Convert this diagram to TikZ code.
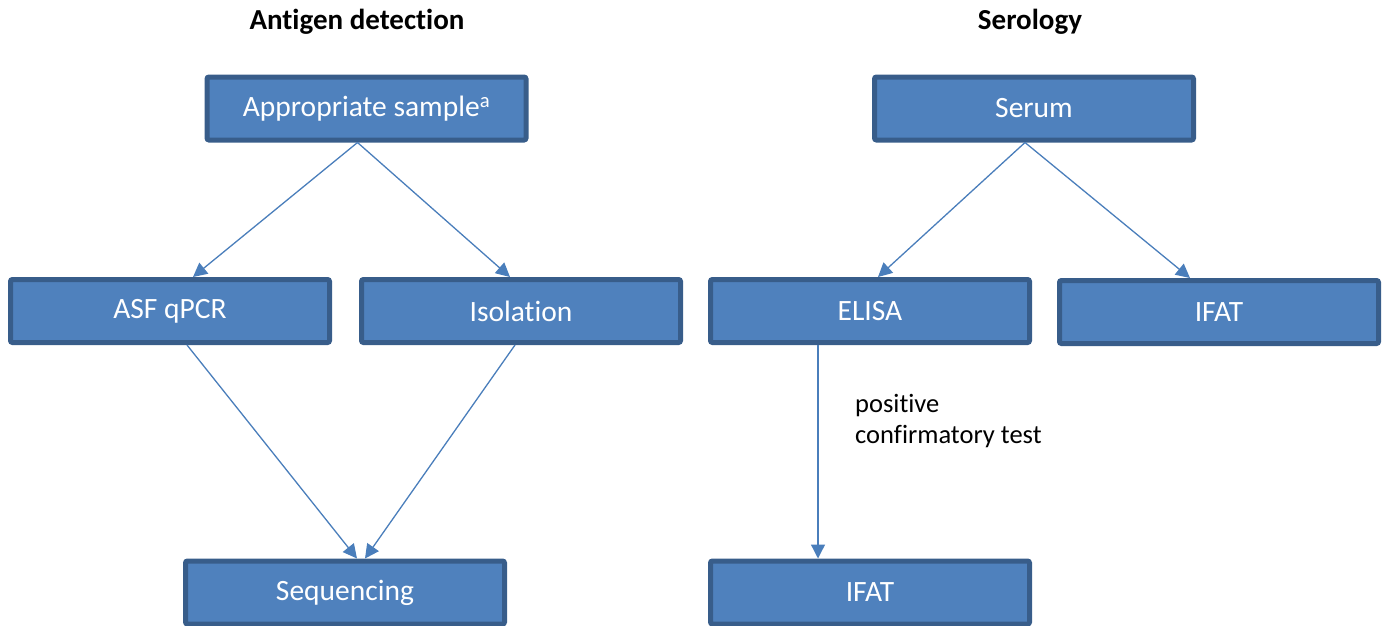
\documentclass[tikz,border=0pt]{standalone}
\usepackage{fontspec}
\setmainfont[Ligatures=NoCommon]{Carlito}
\usetikzlibrary{arrows.meta}
\definecolor{boxfill}{HTML}{4F81BD}
\definecolor{boxline}{HTML}{385D8A}
\definecolor{arrowblue}{HTML}{4A7EBB}
\begin{document}
\begin{tikzpicture}[x=1pt,y=-1pt]

\tikzset{TestBox/.style={draw=boxline,fill=boxfill,line width=5pt,rounded corners=2pt,
  minimum width=319pt,minimum height=63pt,inner sep=0pt,text=white,
  font=\fontsize{29.5}{35}\selectfont}};
\tikzset{edge/.style={-{Triangle[width=14pt,length=14pt]},draw=arrowblue,line width=1.3pt}};

\useasboundingbox (0,0) rectangle (1389,625);

% antigen detection
\begin{scope}
\node[font=\fontsize{29}{35}\selectfont\bfseries] (titleA) at (357,22) {Antigen detection};

\node[TestBox] (sample) at (366.5,108.5) {Appropriate sample\textsuperscript{a}};
\node[TestBox] (qpcr) at (170,311) {ASF qPCR};
\node[TestBox] (isolation) at (521,311) {Isolation};
\node[TestBox] (seq) at (345,592.5) {Sequencing};

\draw[edge] ([xshift=-9pt]sample.south) -- ([xshift=23pt]qpcr.north);
\draw[edge] ([xshift=-9pt]sample.south) -- ([xshift=-11pt]isolation.north);
\draw[edge] ([xshift=17pt]qpcr.south) -- ([xshift=12pt]seq.north);
\draw[edge] ([xshift=-6pt]isolation.south) -- ([xshift=20pt]seq.north);
\end{scope}

% serology
\begin{scope}
\node[font=\fontsize{29}{35}\selectfont\bfseries] (titleS) at (1030,22) {Serology};

\node[TestBox] (serum) at (1034,108.5) {Serum};
\node[TestBox] (elisa) at (870,311) {ELISA};
\node[TestBox] (ifatR) at (1219,312) {IFAT};
\node[TestBox] (ifatB) at (870,592.5) {IFAT};

\draw[edge] ([xshift=-9pt]serum.south) -- ([xshift=8pt]elisa.north);
\draw[edge] ([xshift=-9pt]serum.south) -- ([xshift=-29pt]ifatR.north);
\draw[edge] ([xshift=-52pt]elisa.south) -- ([xshift=-52pt]ifatB.north);
\node[anchor=west,align=left,inner sep=0pt,font=\fontsize{26.5}{31}\selectfont] (confirm) at (855,421) {positive\\confirmatory test};
\end{scope}

\end{tikzpicture}
\end{document}
